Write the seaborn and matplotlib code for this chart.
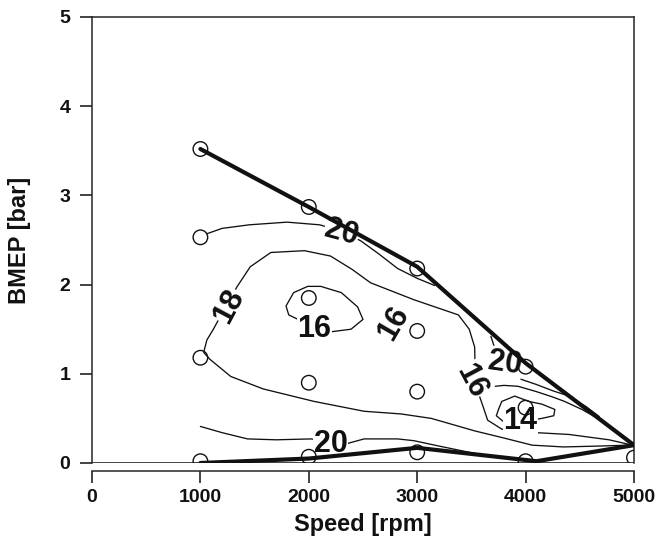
import matplotlib
matplotlib.use("Agg")
import matplotlib.pyplot as plt
import seaborn as sns

# measured operating points (open circles)
point_rpm = [1000, 1000, 1000, 1000, 2000, 2000, 2000, 2000,
             3000, 3000, 3000, 3000, 4000, 4000, 4000, 5000]
point_bmep = [3.52, 2.53, 1.18, 0.02, 2.87, 1.85, 0.90, 0.07,
              2.18, 1.48, 0.80, 0.12, 1.08, 0.62, 0.02, 0.06]

# operating envelope (thick line)
env_rpm = [1000, 2000, 3000, 4000, 5000, 4100, 3000, 2000, 1000]
env_bmep = [3.52, 2.87, 2.20, 1.12, 0.20, 0.02, 0.17, 0.05, 0.00]

# iso-lines
iso20_top_rpm = [1060, 1200, 1450, 1800, 2100, 2300, 2480, 2650, 2820, 3000, 3160]
iso20_top_bmep = [2.57, 2.63, 2.67, 2.70, 2.67, 2.60, 2.49, 2.34, 2.18, 2.07, 1.99]

iso18_rpm = [4950, 4680, 4350, 4060, 3800, 3530, 3130, 2850, 2510, 2050, 1580,
             1280, 1090, 1030, 1060, 1120, 1200, 1340, 1460, 1650, 1960, 2200,
             2400, 2570, 2970, 3380, 3480, 3530, 3535]
iso18_bmep = [0.20, 0.19, 0.18, 0.20, 0.28, 0.36, 0.50, 0.55, 0.58, 0.69, 0.83,
              0.97, 1.16, 1.24, 1.38, 1.50, 1.68, 1.98, 2.20, 2.36, 2.38, 2.32,
              2.17, 2.02, 1.83, 1.66, 1.50, 1.30, 1.05]

iso16_tail_rpm = [3535, 3560, 3600, 3650, 3780, 3950, 4400, 4770, 4950]
iso16_tail_bmep = [1.05, 0.80, 0.66, 0.48, 0.38, 0.35, 0.32, 0.26, 0.21]

iso16_loop_rpm = [2200, 2390, 2500, 2450, 2300, 2110, 1990, 1860, 1790, 1815, 1900, 2050, 2200]
iso16_loop_bmep = [1.47, 1.50, 1.61, 1.75, 1.91, 1.98, 1.98, 1.91, 1.76, 1.66, 1.61, 1.50, 1.47]

iso14_rpm = [3750, 3780, 3900, 4030, 4150, 4270, 4260, 4150, 4000, 3800, 3730, 3750]
iso14_bmep = [0.60, 0.69, 0.75, 0.69, 0.66, 0.60, 0.53, 0.50, 0.47, 0.46, 0.53, 0.60]

iso20_low_rpm = [1000, 1200, 1435, 1700, 2020, 2200, 2360, 2510, 2820, 2970, 3200, 3440, 3560]
iso20_low_bmep = [0.41, 0.34, 0.27, 0.26, 0.27, 0.24, 0.22, 0.27, 0.27, 0.25, 0.19, 0.13, 0.10]

iso20_right_rpm = [3680, 3720, 3760, 3810, 3930, 4100, 4250, 4400, 4560, 4680]
iso20_right_bmep = [1.42, 1.27, 1.15, 1.10, 0.95, 0.88, 0.81, 0.75, 0.63, 0.52]

iso18_right_rpm = [3720, 3800, 3930, 4100, 4250, 4360, 4520, 4680]
iso18_right_bmep = [0.86, 0.87, 0.86, 0.80, 0.74, 0.69, 0.60, 0.49]

# contour labels
label_text = ["20", "18", "16", "16", "16", "20", "14", "20"]
label_rpm = [2300, 1260, 2050, 2780, 3500, 3810, 3950, 2200]
label_bmep = [2.58, 1.76, 1.50, 1.57, 0.92, 1.12, 0.47, 0.21]
label_rot = [-15, 62, 0, 60, -62, -8, 0, 0]

sns.set_style("ticks")
plt.rcParams["font.family"] = ["Liberation Sans", "DejaVu Sans"]
plt.rcParams["axes.linewidth"] = 1.1

fig = plt.figure(figsize=(6.6, 5.44), dpi=100)
ax = fig.add_axes([0.1394, 0.1489, 0.8212, 0.8199])

ink = "#111111"
thin = dict(color=ink, lw=0.95, sort=False, estimator=None, ax=ax, zorder=2)

for xs, ys in [(iso20_top_rpm, iso20_top_bmep), (iso18_rpm, iso18_bmep),
               (iso16_tail_rpm, iso16_tail_bmep), (iso16_loop_rpm, iso16_loop_bmep),
               (iso14_rpm, iso14_bmep), (iso20_low_rpm, iso20_low_bmep),
               (iso20_right_rpm, iso20_right_bmep), (iso18_right_rpm, iso18_right_bmep)]:
    sns.lineplot(x=xs, y=ys, **thin)

for txt, x, y, rot in zip(label_text, label_rpm, label_bmep, label_rot):
    ax.text(x, y, txt, rotation=rot, ha="center", va="center", fontsize=22,
            fontweight="bold", color=ink, zorder=3,
            bbox=dict(boxstyle="square,pad=0.02", fc="white", ec="none"))

# envelope
sns.lineplot(x=env_rpm, y=env_bmep, sort=False, estimator=None, color=ink,
             lw=3.0, ax=ax, zorder=4)

sns.scatterplot(x=point_rpm, y=point_bmep, s=110, marker="o", facecolors="none",
                edgecolor=ink, linewidth=1.0, ax=ax, zorder=5)

ax.axhline(0, color=ink, lw=1.1, zorder=1)

ax.set_xlim(0, 5000)
ax.set_ylim(0, 5)
ax.set_xticks([0, 1000, 2000, 3000, 4000, 5000])
ax.set_yticks([0, 1, 2, 3, 4, 5])
ax.spines["bottom"].set_position(("outward", 5.8))
ax.tick_params(axis="both", direction="out", length=8.6, width=1.1, colors=ink,
               labelsize=14)
ax.tick_params(axis="y", pad=7)
ax.tick_params(axis="x", pad=4)
for lab in ax.get_xticklabels() + ax.get_yticklabels():
    lab.set_fontweight("bold")

ax.set_xlabel("Speed [rpm]", fontsize=17, fontweight="bold", color=ink)
ax.set_ylabel("BMEP [bar]", fontsize=17, fontweight="bold", color=ink)
ax.xaxis.set_label_coords(0.5, -0.112)
ax.yaxis.set_label_coords(-0.112, 0.5)

fig.savefig("out.png", dpi=100)
